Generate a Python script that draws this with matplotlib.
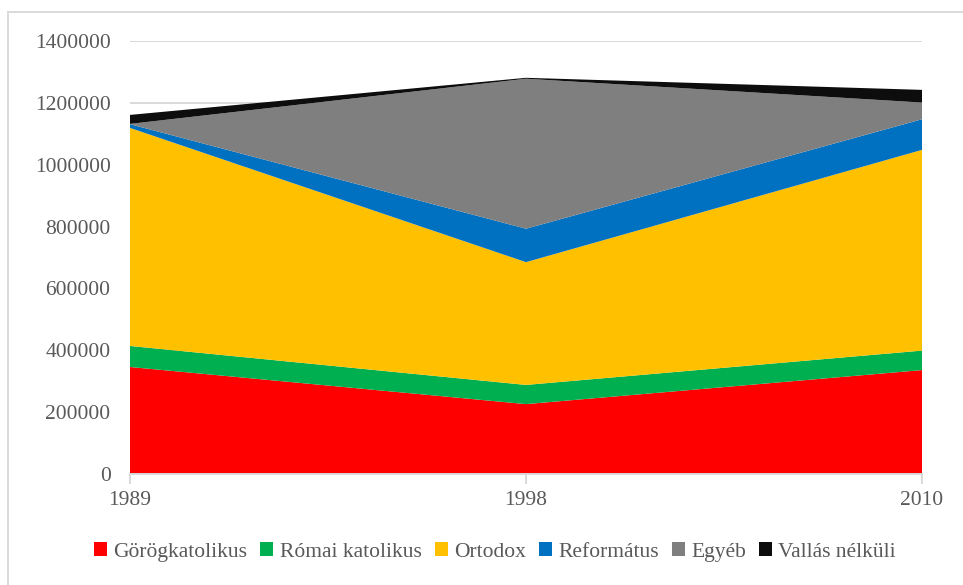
import matplotlib.pyplot as plt
from matplotlib.patches import Rectangle, Patch

years = ['1989', '1998', '2010']
gorogkatolikus = [346000, 226000, 336000]
romai_katolikus = [68000, 62000, 63000]
ortodox = [705000, 397000, 649000]
reformatus = [12000, 108000, 99000]
egyeb = [1000, 485000, 54000]
vallas_nelkuli = [29000, 3000, 41000]

labels = ['Görögkatolikus', 'Római katolikus', 'Ortodox', 'Református', 'Egyéb', 'Vallás nélküli']
colors = ['#ff0000', '#00b050', '#ffc000', '#0070c0', '#7f7f7f', '#0d0d0d']

plt.rcParams['font.family'] = ['Liberation Serif', 'DejaVu Serif']
text_color = '#595959'
grid_color = '#d9d9d9'

fig = plt.figure(figsize=(9.63, 5.85), dpi=100)
ax = fig.add_axes([130 / 963, 1 - 474 / 585, 792 / 963, 433 / 585])

x = list(range(len(years)))
ax.stackplot(x, gorogkatolikus, romai_katolikus, ortodox, reformatus, egyeb, vallas_nelkuli,
             colors=colors, labels=labels, zorder=2)

ax.set_xlim(0, 2)
ax.set_ylim(0, 1400000)
ax.set_yticks(range(0, 1400001, 200000))
ax.set_yticklabels([str(v) for v in range(0, 1400001, 200000)])
ax.set_xticks(x)
ax.set_xticklabels(years)
ax.grid(axis='y', color=grid_color, linewidth=1.4, zorder=0)

for side in ['top', 'right', 'left']:
    ax.spines[side].set_visible(False)
ax.spines['bottom'].set_color(grid_color)
ax.spines['bottom'].set_linewidth(1.4)
ax.spines['bottom'].set_zorder(3)

ax.tick_params(axis='y', length=0, pad=14, labelsize=15.5, labelcolor=text_color)
ax.tick_params(axis='x', length=7, width=1.4, color=grid_color, pad=5,
               labelsize=15.5, labelcolor=text_color)

handles = [Patch(facecolor=c, edgecolor='none') for c in colors]
fig.legend(handles, labels, loc='center', bbox_to_anchor=(495 / 963, 1 - 552 / 585),
           ncol=6, frameon=False, fontsize=15.5, labelcolor=text_color,
           handlelength=0.6, handleheight=0.6, handletextpad=0.3, columnspacing=0.6)

# outer chart border (left and top edges visible)
fig.patches.append(Rectangle((8 / 963, -0.1), 1.2, 1 - 12 / 585 + 0.1,
                             transform=fig.transFigure, fill=False,
                             edgecolor=grid_color, linewidth=1.4))

fig.savefig('out.png', dpi=100)
